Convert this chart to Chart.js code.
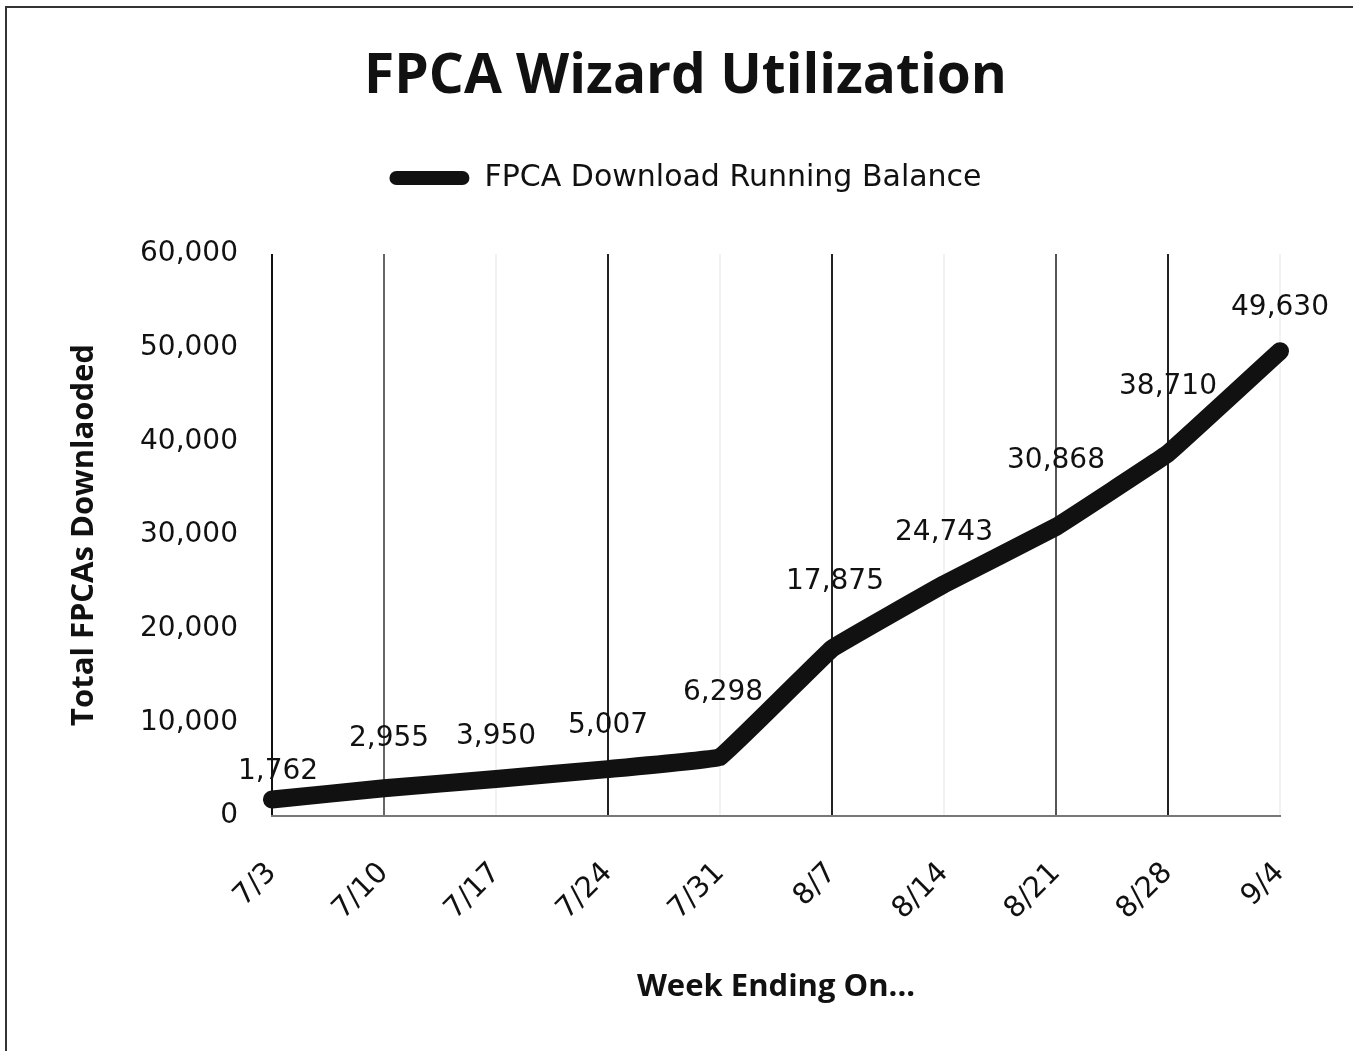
<!DOCTYPE html>
<html>
<head>
<meta charset="utf-8">
<script src="https://cdn.jsdelivr.net/npm/chart.js@4/dist/chart.umd.min.js"></script>
<style>
  html, body { margin: 0; padding: 0; background: #fff; }
  #wrap { position: absolute; left: 0; top: 0; width: 1353px; height: 1051px; }
  #frame { position: absolute; left: 5px; top: 6px; width: 1360px; height: 1060px;
           border-left: 2px solid #333; border-top: 2px solid #333; }
  canvas { position: absolute; left: 0; top: 0; }
</style>
</head>
<body>
<div id="wrap">
  <div id="frame"></div>
  <canvas id="c" width="1353" height="1051"></canvas>
</div>
<script>
const categories = ["7/3", "7/10", "7/17", "7/24", "7/31", "8/7", "8/14", "8/21", "8/28", "9/4"];
const runningBalance = [1762, 2955, 3950, 5007, 6298, 17875, 24743, 30868, 38710, 49630];
const yTicks = [0, 10000, 20000, 30000, 40000, 50000, 60000];

// styling only (scan-like variation of the vertical grid lines and label offsets)
const gridColors = ["#111", "#666", "rgba(0,0,0,0.05)", "#222", "rgba(0,0,0,0.05)", "#222", "rgba(0,0,0,0.05)", "#555", "#222", "rgba(0,0,0,0.05)"];
const labelDx = [6, 5, 0, 0, 3, 3, 0, 0, 0, 0];
const labelDy = [-28, -50, -42, -43, -64, -67, -52, -66, -67, -43];

const REG = "'DejaVu Sans', sans-serif";
const BOLD = "'Open Sans', 'DejaVu Sans', sans-serif";
const fmt = v => v.toLocaleString('en-US');

const dataLabels = {
  id: 'dataLabels',
  afterDatasetsDraw(chart) {
    const ctx = chart.ctx;
    const meta = chart.getDatasetMeta(0);
    ctx.save();
    ctx.font = "28px " + REG;
    ctx.fillStyle = "#111";
    ctx.textAlign = "center";
    ctx.textBaseline = "middle";
    meta.data.forEach((pt, i) => {
      ctx.fillText(fmt(runningBalance[i]), pt.x + labelDx[i], pt.y + labelDy[i]);
    });
    ctx.restore();
  }
};

new Chart(document.getElementById('c'), {
  type: 'line',
  data: {
    labels: categories,
    datasets: [{
      label: 'FPCA Download Running Balance',
      data: runningBalance,
      borderColor: '#111',
      backgroundColor: '#111',
      borderWidth: 18,
      borderCapStyle: 'round',
      borderJoinStyle: 'round',
      pointRadius: 0,
      pointHoverRadius: 0,
      tension: 0.05,
      fill: false,
      xAxisID: 'x',
      yAxisID: 'y'
    }]
  },
  options: {
    responsive: false,
    animation: false,
    devicePixelRatio: 1,
    layout: { padding: { left: 18, right: 0, top: 0, bottom: 0 } },
    plugins: {
      title: {
        display: true,
        text: 'FPCA Wizard Utilization',
        color: '#111',
        font: { family: BOLD, size: 55, weight: 'bold', lineHeight: 1 },
        padding: { top: 50, bottom: 0 }
      },
      legend: {
        display: true,
        labels: {
          color: '#111',
          font: { family: REG, size: 30 },
          boxWidth: 80,
          boxHeight: 14,
          padding: 58,
          useBorderRadius: true,
          borderRadius: 7,
          generateLabels(chart) {
            return Chart.defaults.plugins.legend.labels.generateLabels(chart)
              .map(l => Object.assign(l, { lineWidth: 0 }));
          }
        }
      },
      tooltip: { enabled: false }
    },
    scales: {
      x: {
        offset: false,
        grid: {
          display: true,
          color: ctx => gridColors[ctx.index] || '#999',
          lineWidth: 2,
          drawTicks: false
        },
        border: { display: true, color: '#777', width: 2 },
        ticks: {
          color: '#111',
          font: { family: REG, size: 29 },
          maxRotation: 45,
          minRotation: 45,
          padding: 40,
          autoSkip: false
        },
        title: {
          display: true,
          text: 'Week Ending On...',
          color: '#111',
          font: { family: BOLD, size: 31, weight: 'bold' },
          padding: { top: 0, bottom: 45 }
        },
        afterFit(scale) { scale.height = 1051 - 816; }
      },
      xTopSpacer: {
        type: 'category',
        position: 'top',
        display: true,
        grid: { display: false, drawTicks: false },
        border: { display: false },
        ticks: { display: false },
        afterFit(scale) { scale.height = 51; }
      },
      y: {
        min: 0,
        max: 60000,
        afterBuildTicks(scale) { scale.ticks = yTicks.map(v => ({ value: v })); },
        grid: { display: false, drawTicks: false },
        border: { display: false },
        ticks: {
          color: '#111',
          font: { family: REG, size: 28 },
          padding: 34,
          callback: v => fmt(v)
        },
        title: {
          display: true,
          text: 'Total FPCAs Downlaoded',
          color: '#111',
          font: { family: BOLD, size: 31, weight: 'bold' },
          padding: { top: 48, bottom: 0 }
        },
        afterFit(scale) { scale.width = 272 - 18; }
      },
      yRightSpacer: {
        type: 'linear',
        position: 'right',
        display: true,
        grid: { display: false, drawTicks: false },
        border: { display: false },
        ticks: { display: false },
        afterFit(scale) { scale.width = 1353 - 1280; }
      }
    }
  },
  plugins: [dataLabels]
});
</script>
</body>
</html>
